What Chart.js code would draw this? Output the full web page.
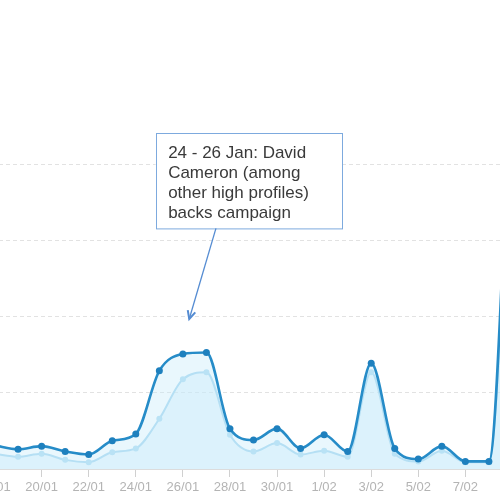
<!DOCTYPE html>
<html>
<head>
<meta charset="utf-8">
<script src="https://cdn.jsdelivr.net/npm/chart.js@4/dist/chart.umd.min.js"></script>
<style>
  html, body { margin: 0; padding: 0; background: #fff; }
  #wrap { position: relative; width: 500px; height: 500px; overflow: hidden; }
  #c { position: absolute; left: -29.5px; top: 124px; }
</style>
</head>
<body>
<div id="wrap"><canvas id="c" width="565" height="375"></canvas></div>
<script>
// Days, 18/01 .. 9/02
const dayLabels = ['18/01','19/01','20/01','21/01','22/01','23/01','24/01','25/01','26/01','27/01','28/01','29/01','30/01','31/01','1/02','2/02','3/02','4/02','5/02','6/02','7/02','8/02','9/02'];
// Every second day carries a tick label (visible part of the axis)
const tickDays = [0,2,4,6,8,10,12,14,16,18,20];
// Series (gridline units)
const seriesDark  = [0.31,0.26,0.30,0.23,0.19,0.37,0.46,1.29,1.51,1.53,0.53,0.38,0.53,0.27,0.45,0.23,1.39,0.27,0.13,0.30,0.10,0.10,5.6];
const seriesLight = [0.20,0.16,0.20,0.12,0.09,0.22,0.27,0.66,1.18,1.27,0.45,0.23,0.34,0.19,0.24,0.16,1.27,0.20,0.10,0.24,0.09,0.09,5.1];
const annotationLines = ['24 - 26 Jan: David', 'Cameron (among', 'other high profiles)', 'backs campaign'];

const toPts = arr => arr.map((v, i) => ({ x: i, y: v }));

const annotationPlugin = {
  id: 'note',
  afterDraw(chart) {
    const ctx = chart.ctx;
    const xs = chart.scales.x, ys = chart.scales.y;
    // arrow tip anchored in data space (between 25/01 and 26/01, above the peak)
    const tipX = xs.getPixelForValue(8.27), tipY = ys.getPixelForValue(1.97);
    const bx = tipX - 33.6, by = tipY - 186, bw = 186, bh = 95.4;
    ctx.save();
    ctx.fillStyle = '#ffffff';
    ctx.fillRect(bx, by, bw, bh);
    ctx.strokeStyle = 'rgb(125,170,222)';
    ctx.lineWidth = 1;
    ctx.strokeRect(Math.round(bx) + 0.5, Math.round(by) + 0.5, bw, bh);
    ctx.fillStyle = '#3a3a3a';
    ctx.font = '17px "Liberation Sans", Arial, sans-serif';
    ctx.textBaseline = 'middle';
    annotationLines.forEach((t, i) => ctx.fillText(t, bx + 12.5, by + 20 + i * 20));
    // arrow
    const sx = tipX + 26.7, sy = by + bh;
    ctx.strokeStyle = 'rgb(85,140,210)';
    ctx.lineWidth = 1.3;
    ctx.beginPath(); ctx.moveTo(sx, sy); ctx.lineTo(tipX, tipY); ctx.stroke();
    const ang = Math.atan2(tipY - sy, tipX - sx);
    ctx.lineWidth = 2;
    ctx.beginPath();
    ctx.moveTo(tipX - 9 * Math.cos(ang - 0.45), tipY - 9 * Math.sin(ang - 0.45));
    ctx.lineTo(tipX, tipY);
    ctx.lineTo(tipX - 9 * Math.cos(ang + 0.45), tipY - 9 * Math.sin(ang + 0.45));
    ctx.stroke();
    ctx.restore();
  }
};

new Chart(document.getElementById('c'), {
  type: 'line',
  data: {
    datasets: [
      {
        label: 'dark',
        data: toPts(seriesDark),
        borderColor: 'rgb(38,140,200)',
        borderWidth: 2.6,
        backgroundColor: 'rgba(200,236,251,0.4)',
        fill: 'origin',
        pointRadius: 3.5,
        pointBackgroundColor: 'rgb(30,128,190)',
        pointBorderColor: 'rgb(30,128,190)',
        pointBorderWidth: 0,
        cubicInterpolationMode: 'monotone'
      },
      {
        label: 'light',
        data: toPts(seriesLight),
        borderColor: 'rgb(168,216,240)',
        borderWidth: 2,
        backgroundColor: 'rgba(200,236,251,0.4)',
        fill: 'origin',
        pointRadius: 3,
        pointBackgroundColor: 'rgb(175,220,242)',
        pointBorderColor: 'rgb(175,220,242)',
        pointBorderWidth: 0,
        cubicInterpolationMode: 'monotone'
      }
    ]
  },
  options: {
    responsive: false,
    animation: false,
    devicePixelRatio: 1,
    layout: { padding: { top: 40.5, left: 0, right: 0, bottom: 0 }, autoPadding: false },
    plugins: { legend: { display: false }, tooltip: { enabled: false } },
    scales: {
      x: {
        type: 'linear',
        min: -1,
        max: 23,
        afterBuildTicks: s => { s.ticks = tickDays.map(v => ({ value: v })); },
        afterFit: s => { s.height = 30; },
        ticks: {
          callback: v => dayLabels[v],
          color: '#b4b4b4',
          font: { size: 13, family: '"Liberation Sans", Arial, sans-serif' },
          padding: 3,
          maxRotation: 0,
          autoSkip: false
        },
        grid: { display: true, drawOnChartArea: false, drawTicks: true, tickLength: 8, color: '#d0d0d0' },
        border: { display: true, color: '#dcdcdc', width: 1 }
      },
      y: {
        min: 0,
        max: 4,
        ticks: { display: false, stepSize: 1 },
        grid: { color: '#e2e2e2', drawTicks: false, lineWidth: 1 },
        border: { display: false, dash: [4, 3] }
      }
    }
  },
  plugins: [annotationPlugin]
});
</script>
</body>
</html>
